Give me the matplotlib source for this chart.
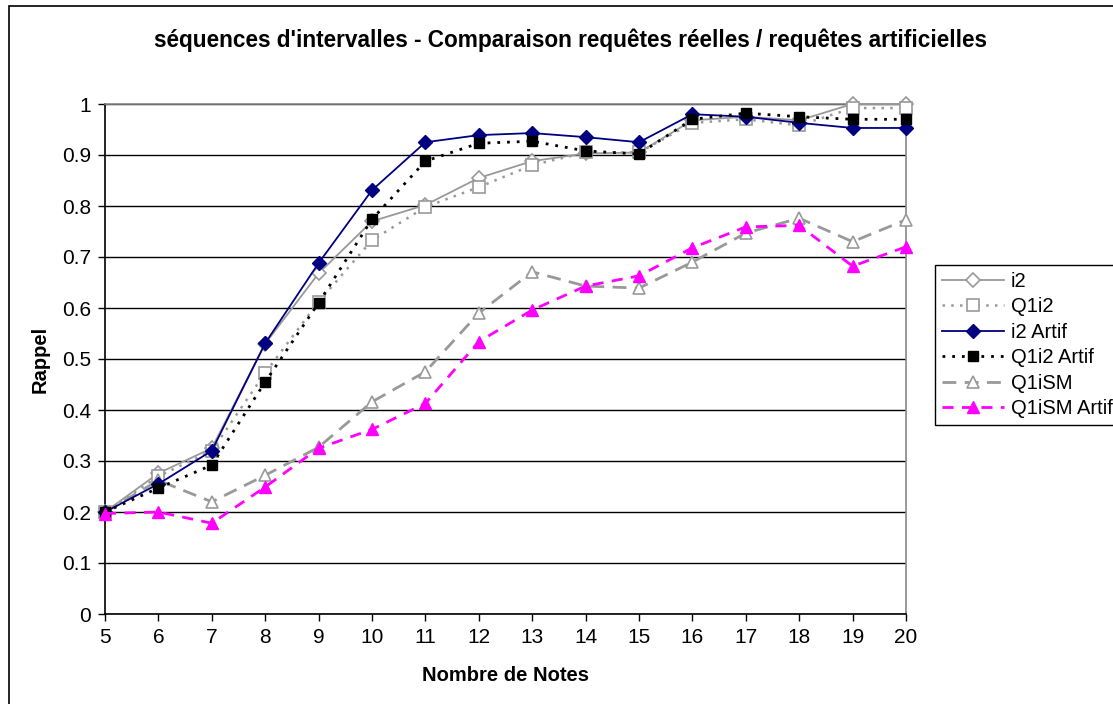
import matplotlib
matplotlib.use("Agg")
import matplotlib.pyplot as plt
from matplotlib.patches import Rectangle

notes = list(range(5, 21))
i2 = [0.20, 0.276, 0.325, 0.53, 0.668, 0.77, 0.802, 0.855, 0.888, 0.903, 0.905, 0.968, 0.975, 0.968, 1.0, 1.0]
q1i2 = [0.20, 0.27, 0.32, 0.473, 0.612, 0.733, 0.798, 0.837, 0.88, 0.905, 0.905, 0.963, 0.97, 0.958, 0.992, 0.992]
i2_artif = [0.20, 0.255, 0.32, 0.531, 0.688, 0.831, 0.925, 0.939, 0.943, 0.935, 0.925, 0.98, 0.975, 0.963, 0.953, 0.953]
q1i2_artif = [0.20, 0.247, 0.292, 0.455, 0.61, 0.774, 0.888, 0.923, 0.927, 0.908, 0.902, 0.97, 0.982, 0.975, 0.97, 0.97]
q1ism = [0.20, 0.262, 0.22, 0.272, 0.327, 0.416, 0.475, 0.59, 0.671, 0.643, 0.639, 0.69, 0.747, 0.776, 0.73, 0.773]
q1ism_artif = [0.197, 0.20, 0.178, 0.249, 0.325, 0.362, 0.413, 0.534, 0.596, 0.643, 0.663, 0.718, 0.759, 0.762, 0.682, 0.72]

labels = ["i2", "Q1i2", "i2 Artif", "Q1i2 Artif", "Q1iSM", "Q1iSM Artif"]
yticks = [0, 0.1, 0.2, 0.3, 0.4, 0.5, 0.6, 0.7, 0.8, 0.9, 1]
ytick_labels = ["0", "0.1", "0.2", "0.3", "0.4", "0.5", "0.6", "0.7", "0.8", "0.9", "1"]

plt.rcParams['font.family'] = ['Liberation Sans', 'DejaVu Sans']

fig = plt.figure(figsize=(11.13, 7.04), dpi=100)
ax = fig.add_axes([105/1113, 1-614/704, (906-105)/1113, (614-104)/704])

grey = "#999999"
common = dict(clip_on=False)
ax.plot(notes, i2, color=grey, lw=1.3, ls='-', marker='D', ms=7, mfc='white', mec=grey, mew=1.2, label=labels[0], zorder=3, **common)
ax.plot(notes, q1i2, color=grey, lw=1.8, ls=(0, (1, 2.5)), marker='s', ms=8, mfc='white', mec=grey, mew=1.2, label=labels[1], zorder=3, **common)
ax.plot(notes, i2_artif, color='#000080', lw=1.3, ls='-', marker='D', ms=7, mfc='#000080', mec='#000080', label=labels[2], zorder=4, **common)
ax.plot(notes, q1i2_artif, color='black', lw=2.0, ls=(0, (1, 2.5)), marker='s', ms=7.5, mfc='black', mec='black', label=labels[3], zorder=4, **common)
ax.plot(notes, q1ism, color=grey, lw=2.0, ls=(0, (5, 3)), marker='^', ms=9, mfc='white', mec=grey, mew=1.2, label=labels[4], zorder=3, **common)
ax.plot(notes, q1ism_artif, color='#FF00FF', lw=2.0, ls=(0, (4, 3)), marker='^', ms=9, mfc='#FF00FF', mec='#FF00FF', label=labels[5], zorder=4, **common)

ax.set_xlim(5, 20)
ax.set_ylim(0, 1)
ax.set_xticks(notes)
ax.set_xticklabels([str(n) for n in notes], fontsize=15)
ax.set_yticks(yticks)
ax.set_yticklabels(ytick_labels, fontsize=15)
ax.yaxis.grid(True, color='black', lw=1)
ax.set_axisbelow(True)
ax.tick_params(axis='both', direction='out', length=5, width=1, color='black', pad=5)
ax.spines['top'].set_color('#888888')
ax.spines['right'].set_color('#888888')
ax.spines['left'].set_color('black')
ax.spines['bottom'].set_color('black')
for s in ax.spines.values():
    s.set_linewidth(1.2)
    s.set_zorder(2)

ax.set_xlabel("Nombre de Notes", fontsize=14.5, fontweight='bold', labelpad=14)
ax.set_ylabel("Rappel", fontsize=14.5, fontweight='bold', labelpad=9)
fig.text(570/1113, 1-40/704, "séquences d'intervalles - Comparaison requêtes réelles / requêtes artificielles",
         ha='center', va='center', fontsize=16.3, fontweight='bold')

leg = fig.legend(loc='upper left', bbox_to_anchor=(935/1113, 1-265/704), fontsize=14.5,
                 frameon=True, fancybox=False, edgecolor='black', framealpha=1,
                 handlelength=3.1, handletextpad=0.3, borderaxespad=0, labelspacing=0.32, borderpad=0.35)
leg.get_frame().set_linewidth(1.0)

fig.patches.append(Rectangle((9/1113, -0.1), 1.2, 1-6/704 + 0.1, transform=fig.transFigure,
                             fill=False, edgecolor='black', lw=1.2))

fig.savefig("out.png", dpi=100)
